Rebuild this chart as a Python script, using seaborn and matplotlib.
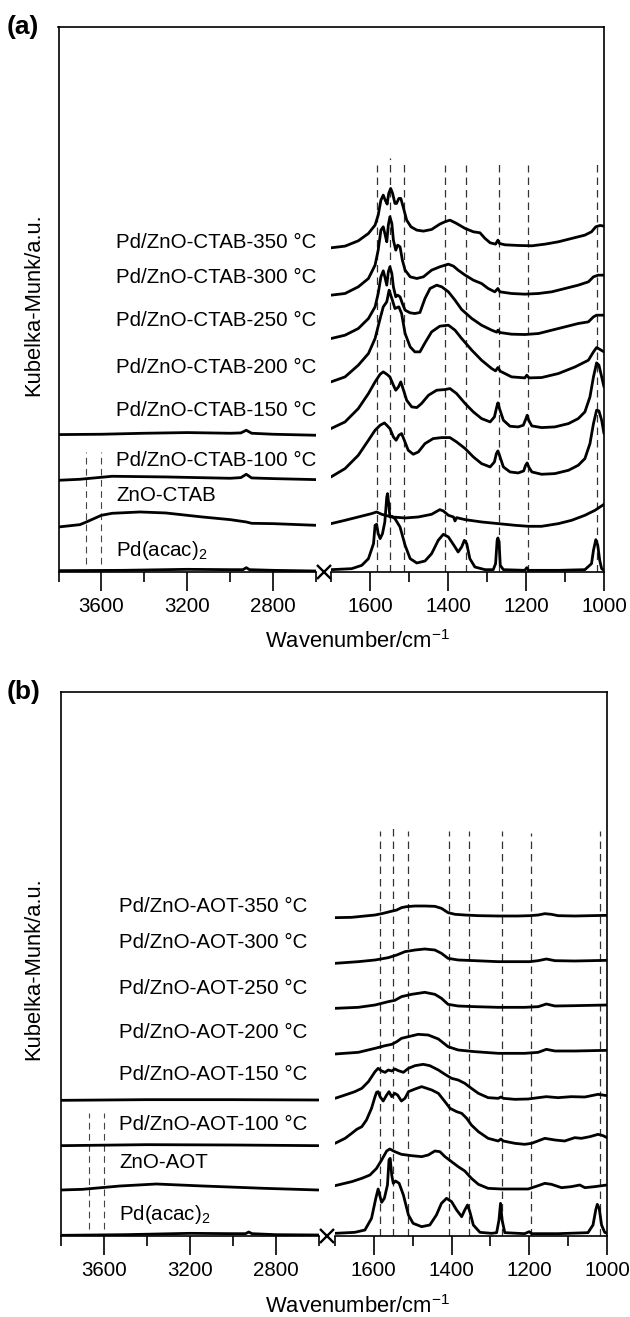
import matplotlib
matplotlib.use("Agg")
import matplotlib.pyplot as plt
import seaborn as sns
import numpy as np

# ---------------- DATA : panel (a) right segment (1700-1000 cm-1) ----------------
A_CTAB350_WN = [1700,1664,1630,1604,1587,1579,1572,1566,1561,1556,1552,1547,1542,1536,1532,1526,1521,1515,1506,1495,1480,1463,1442,1421,1408,1395,1378,1356,1335,1318,1305,1292,1278,1272,1268,1254,1220,1185,1151,1117,1083,1049,1032,1021,1010,1000]
A_CTAB350_KM = [9.72,9.77,9.93,10.15,10.40,10.70,11.15,11.30,11.15,11.03,11.35,11.50,11.35,11.05,11.05,11.20,11.20,10.95,10.55,10.35,10.25,10.22,10.27,10.43,10.50,10.55,10.45,10.30,10.20,10.17,10.00,9.87,9.83,9.95,9.85,9.81,9.79,9.78,9.83,9.90,10.00,10.10,10.20,10.35,10.39,10.37]

A_CTAB300_WN = [1700,1664,1630,1604,1587,1579,1572,1566,1562,1557,1553,1549,1544,1540,1534,1529,1523,1517,1510,1497,1480,1463,1442,1421,1399,1386,1374,1356,1335,1314,1297,1280,1272,1267,1237,1203,1168,1134,1100,1066,1040,1027,1015,1000]
A_CTAB300_KM = [8.30,8.35,8.55,8.80,9.20,9.65,10.25,10.35,10.15,9.90,10.40,10.65,10.45,9.95,9.65,9.80,9.75,9.35,9.05,8.85,8.80,8.85,9.05,9.15,9.23,9.17,9.05,8.90,8.75,8.65,8.50,8.40,8.50,8.40,8.35,8.33,8.35,8.40,8.50,8.60,8.70,8.85,8.90,8.90]

A_CTAB250_WN = [1700,1664,1630,1604,1587,1579,1572,1566,1562,1557,1553,1549,1544,1540,1534,1529,1523,1517,1510,1497,1485,1472,1459,1446,1429,1416,1399,1382,1365,1339,1314,1288,1275,1272,1267,1237,1203,1168,1134,1100,1066,1040,1027,1019,1000]
A_CTAB250_KM = [7.00,7.10,7.30,7.60,7.95,8.35,8.85,9.03,8.85,8.60,9.00,9.15,8.95,8.55,8.25,8.30,8.25,8.05,7.85,7.77,7.75,7.78,8.20,8.50,8.60,8.55,8.40,8.15,7.87,7.60,7.40,7.25,7.19,7.25,7.18,7.13,7.12,7.15,7.25,7.35,7.45,7.50,7.65,7.70,7.70]

A_CTAB200_WN = [1700,1664,1630,1604,1587,1574,1566,1557,1551,1544,1536,1526,1519,1510,1497,1485,1472,1459,1442,1421,1399,1382,1365,1339,1314,1288,1278,1272,1266,1237,1203,1198,1192,1160,1117,1074,1040,1027,1019,1010,1000]
A_CTAB200_KM = [5.70,5.85,6.20,6.55,7.00,7.60,7.95,8.10,8.45,8.20,7.90,7.95,7.75,7.15,6.75,6.60,6.60,6.87,7.20,7.37,7.40,7.25,7.00,6.65,6.35,6.10,6.03,6.13,6.02,5.85,5.82,5.90,5.82,5.83,5.95,6.15,6.35,6.60,6.73,6.67,6.60]

A_CTAB150_WN = [1700,1664,1630,1604,1587,1574,1566,1557,1549,1540,1534,1527,1521,1514,1506,1493,1480,1468,1450,1429,1408,1395,1378,1356,1335,1314,1292,1281,1275,1272,1268,1258,1241,1220,1207,1201,1197,1193,1185,1160,1126,1091,1066,1049,1036,1027,1019,1013,1006,1000]
A_CTAB150_KM = [4.30,4.50,4.90,5.35,5.70,5.93,6.00,5.93,5.85,5.60,5.45,5.55,5.70,5.45,5.15,4.95,4.93,5.05,5.30,5.45,5.47,5.50,5.35,5.05,4.80,4.60,4.50,4.65,4.95,5.07,4.90,4.55,4.37,4.35,4.40,4.57,4.70,4.55,4.38,4.33,4.35,4.45,4.60,4.80,5.25,5.85,6.27,6.20,5.85,5.55]

A_CTAB100_WN = [1700,1664,1630,1604,1587,1574,1563,1557,1549,1540,1533,1526,1519,1512,1502,1489,1476,1459,1438,1416,1395,1378,1356,1335,1314,1292,1281,1276,1272,1268,1258,1241,1220,1206,1201,1197,1193,1185,1160,1126,1091,1066,1049,1036,1027,1019,1013,1006,1000]
A_CTAB100_KM = [2.85,3.10,3.50,3.95,4.25,4.40,4.47,4.40,4.30,4.05,3.95,4.10,4.15,3.95,3.65,3.53,3.60,3.85,4.00,4.03,4.03,3.90,3.70,3.45,3.25,3.15,3.30,3.55,3.63,3.50,3.15,3.00,2.97,3.03,3.20,3.27,3.15,3.00,2.93,2.95,3.05,3.20,3.40,3.85,4.45,4.85,4.83,4.55,4.15]

A_ZNOCTAB_WN = [1700,1664,1630,1596,1583,1570,1544,1510,1476,1442,1421,1412,1399,1386,1382,1378,1356,1314,1271,1228,1194,1160,1117,1083,1049,1023,1000]
A_ZNOCTAB_KM = [1.45,1.55,1.65,1.75,1.80,1.73,1.65,1.62,1.65,1.73,1.87,1.83,1.70,1.65,1.53,1.63,1.57,1.50,1.45,1.40,1.37,1.37,1.45,1.55,1.70,1.85,2.03]

A_PDACAC_WN = [1700,1647,1621,1604,1591,1587,1583,1579,1574,1568,1562,1557,1555,1552,1549,1544,1536,1523,1510,1497,1480,1459,1442,1425,1412,1399,1382,1374,1365,1358,1352,1344,1331,1305,1284,1278,1274,1272,1269,1266,1258,1203,1198,1194,1117,1049,1032,1027,1021,1016,1011,1006,1000]
A_PDACAC_KM = [0.07,0.10,0.20,0.40,0.85,1.40,1.43,1.15,1.00,1.15,1.50,2.25,2.35,2.05,1.65,1.67,1.60,1.35,0.80,0.40,0.27,0.33,0.55,0.95,1.13,1.05,0.75,0.60,0.75,0.95,0.85,0.40,0.15,0.07,0.07,0.25,0.95,1.02,0.90,0.20,0.07,0.05,0.13,0.05,0.05,0.07,0.25,0.65,0.97,0.80,0.35,0.10,0.05]

# ---------------- DATA : panel (a) left segment (3800-2600 cm-1) ----------------
A_CTAB150_L_WN = [3800,3600,3400,3200,3000,2950,2925,2900,2800,2600]
A_CTAB150_L_KM = [4.12,4.13,4.16,4.18,4.16,4.17,4.25,4.16,4.13,4.10]
A_CTAB100_L_WN = [3800,3700,3550,3300,3000,2950,2925,2900,2800,2600]
A_CTAB100_L_KM = [2.75,2.78,2.87,2.85,2.81,2.83,2.93,2.82,2.80,2.77]
A_ZNOCTAB_L_WN = [3800,3700,3670,3600,3550,3420,3300,3130,3000,2925,2900,2800,2600]
A_ZNOCTAB_L_KM = [1.35,1.42,1.50,1.70,1.76,1.80,1.77,1.65,1.57,1.50,1.46,1.45,1.40]
A_PDACAC_L_WN = [3800,3500,3200,3000,2940,2925,2910,2800,2600]
A_PDACAC_L_KM = [0.04,0.05,0.08,0.07,0.07,0.13,0.07,0.05,0.03]

# ---------------- DATA : panel (b) right segment ----------------
B_AOT350_WN = [1700,1657,1623,1597,1576,1559,1541,1529,1516,1494,1469,1443,1426,1409,1391,1366,1331,1280,1229,1199,1177,1160,1143,1126,1083,1000]
B_AOT350_KM = [9.55,9.56,9.60,9.63,9.68,9.73,9.78,9.85,9.88,9.90,9.90,9.89,9.83,9.70,9.65,9.63,9.61,9.60,9.60,9.61,9.63,9.67,9.65,9.61,9.60,9.62]

B_AOT300_WN = [1700,1640,1597,1563,1541,1520,1494,1469,1443,1426,1409,1383,1340,1280,1229,1199,1177,1156,1134,1083,1000]
B_AOT300_KM = [8.18,8.23,8.28,8.35,8.43,8.53,8.58,8.61,8.58,8.48,8.33,8.28,8.26,8.23,8.23,8.23,8.26,8.31,8.26,8.25,8.27]

B_AOT250_WN = [1700,1640,1597,1563,1546,1529,1503,1469,1443,1426,1409,1383,1340,1280,1212,1177,1156,1134,1083,1000]
B_AOT250_KM = [6.83,6.86,6.93,7.03,7.07,7.18,7.25,7.31,7.25,7.13,6.95,6.90,6.88,6.86,6.86,6.88,6.96,6.90,6.91,6.93]

B_AOT200_WN = [1700,1640,1597,1571,1554,1541,1529,1511,1486,1460,1434,1409,1383,1340,1280,1212,1177,1156,1134,1083,1000]
B_AOT200_KM = [5.46,5.51,5.63,5.71,5.75,5.83,5.93,5.98,6.05,6.03,5.91,5.68,5.58,5.53,5.48,5.48,5.51,5.60,5.55,5.55,5.57]

B_AOT150_WN = [1700,1674,1649,1631,1614,1597,1589,1580,1571,1563,1554,1546,1537,1524,1511,1494,1473,1456,1434,1417,1400,1383,1366,1349,1331,1306,1280,1273,1267,1237,1203,1177,1156,1126,1092,1057,1023,1000]
B_AOT150_KM = [4.13,4.23,4.33,4.43,4.63,4.93,5.03,4.95,4.91,4.98,4.95,5.01,4.96,4.91,5.03,5.11,5.15,5.11,4.98,4.85,4.73,4.68,4.58,4.43,4.28,4.15,4.13,4.17,4.13,4.10,4.11,4.15,4.18,4.15,4.18,4.17,4.25,4.21]

B_AOT100_WN = [1700,1674,1657,1644,1631,1619,1606,1597,1593,1589,1584,1576,1567,1561,1554,1546,1539,1529,1520,1511,1494,1477,1469,1451,1434,1417,1404,1387,1374,1361,1349,1331,1306,1280,1273,1267,1237,1212,1194,1160,1134,1109,1083,1066,1044,1023,1010,1000]
B_AOT100_KM = [2.78,2.93,3.08,3.20,3.28,3.48,3.83,4.18,4.31,4.33,4.18,4.05,4.23,4.33,4.18,4.28,4.23,4.05,4.13,4.33,4.41,4.48,4.45,4.38,4.28,4.03,3.83,3.73,3.68,3.53,3.33,3.13,2.93,2.85,2.91,2.85,2.78,2.75,2.78,2.93,2.88,2.85,2.95,2.93,2.98,3.05,3.01,2.95]

B_ZNOAOT_WN = [1700,1657,1631,1610,1593,1580,1567,1559,1546,1529,1503,1477,1460,1443,1430,1417,1400,1383,1366,1349,1331,1306,1272,1229,1203,1177,1160,1143,1117,1092,1070,1057,1032,1000]
B_ZNOAOT_KM = [1.51,1.63,1.73,1.83,2.03,2.28,2.55,2.61,2.53,2.45,2.41,2.38,2.43,2.55,2.53,2.38,2.23,2.08,1.95,1.73,1.55,1.43,1.41,1.41,1.41,1.51,1.58,1.55,1.45,1.48,1.53,1.45,1.48,1.53]

B_PDACAC_WN = [1700,1649,1623,1606,1595,1589,1584,1580,1573,1565,1561,1558,1554,1550,1544,1535,1524,1511,1499,1477,1456,1439,1426,1413,1400,1387,1374,1366,1359,1353,1344,1327,1297,1284,1278,1274,1270,1263,1212,1200,1194,1126,1049,1036,1029,1025,1020,1014,1006,1000]
B_PDACAC_KM = [0.08,0.11,0.18,0.53,1.13,1.41,1.18,1.01,1.13,1.53,2.28,2.33,1.83,1.58,1.65,1.58,1.23,0.63,0.38,0.28,0.33,0.63,0.98,1.13,1.03,0.78,0.58,0.78,0.93,0.73,0.33,0.11,0.08,0.10,0.48,0.98,0.48,0.10,0.07,0.13,0.07,0.07,0.10,0.33,0.78,0.95,0.83,0.33,0.11,0.08]

# ---------------- DATA : panel (b) left segment ----------------
B_AOT150_L_WN = [3800,3400,3000,2600]
B_AOT150_L_KM = [4.07,4.09,4.09,4.08]
B_AOT100_L_WN = [3800,3400,3000,2600]
B_AOT100_L_KM = [2.71,2.74,2.73,2.71]
B_ZNOAOT_L_WN = [3800,3700,3525,3356,3138,2853,2600]
B_ZNOAOT_L_KM = [1.38,1.40,1.50,1.56,1.50,1.43,1.38]
B_PDACAC_L_WN = [3800,3500,3200,3000,2940,2925,2910,2800,2600]
B_PDACAC_L_KM = [0.02,0.04,0.08,0.07,0.07,0.12,0.07,0.04,0.03]

# reference band positions (dashed lines)
DASH_WN = [1583, 1550, 1513, 1407, 1355, 1269, 1196, 1019]
DASH_WN_HIGH = [3670, 3600]

LABELS_A = ["Pd/ZnO-CTAB-350 \u00b0C", "Pd/ZnO-CTAB-300 \u00b0C", "Pd/ZnO-CTAB-250 \u00b0C",
            "Pd/ZnO-CTAB-200 \u00b0C", "Pd/ZnO-CTAB-150 \u00b0C", "Pd/ZnO-CTAB-100 \u00b0C",
            "ZnO-CTAB", r"Pd(acac)$_{\mathregular{2}}$"]
LABELS_B = ["Pd/ZnO-AOT-350 \u00b0C", "Pd/ZnO-AOT-300 \u00b0C", "Pd/ZnO-AOT-250 \u00b0C",
            "Pd/ZnO-AOT-200 \u00b0C", "Pd/ZnO-AOT-150 \u00b0C", "Pd/ZnO-AOT-100 \u00b0C",
            "ZnO-AOT", r"Pd(acac)$_{\mathregular{2}}$"]

# ---------------- style ----------------
sns.set_theme(style="ticks")
plt.rcParams["font.family"] = ["Liberation Sans", "DejaVu Sans"]
plt.rcParams["mathtext.fontset"] = "custom"
plt.rcParams["mathtext.rm"] = "Liberation Sans"
plt.rcParams["text.color"] = "black"
plt.rcParams["axes.labelcolor"] = "black"
plt.rcParams["xtick.color"] = "black"
plt.rcParams["xtick.labelcolor"] = "black"
FS = 14.8
FS_TICK = 14.8
FS_AXLAB = 15.8
LW = 2.0

W, H = 630, 1317
fig = plt.figure(figsize=(W / 100, H / 100), dpi=100)
fig.patch.set_facecolor("white")


def fx(px):
    return px / W


def fy(py):
    return 1 - py / H


def make_panel(geom, right_series, left_series, labels, label_y, dash_tops, dash_low, letter, xlabel_y):
    lx0, lx1, rx0, rx1, top, bot, ymax = geom
    hgt = (bot - top) / H
    bg = fig.add_axes([fx(lx0), fy(bot), fx(rx1 - lx0), hgt])
    bg.set_facecolor("none")
    bg.set_xticks([]); bg.set_yticks([])
    for s in ["left", "right", "bottom"]:
        bg.spines[s].set_visible(False)
    bg.spines["top"].set_linewidth(1.2)
    bg.spines["top"].set_color("black")
    # break mark at the gap between both segments
    gap_mid = ((lx1 + rx0) / 2 - lx0) / (rx1 - lx0)
    bg.plot([gap_mid], [0], marker="x", ms=10, mew=1.7, color="black",
            transform=bg.transAxes, clip_on=False)

    axL = fig.add_axes([fx(lx0), fy(bot), fx(lx1 - lx0), hgt])
    axR = fig.add_axes([fx(rx0), fy(bot), fx(rx1 - rx0), hgt])
    for ax in (axL, axR):
        ax.set_facecolor("none")
        ax.set_ylim(0, ymax)
        ax.set_yticks([])
        ax.spines["top"].set_visible(False)
        for s in ["left", "right", "bottom"]:
            ax.spines[s].set_linewidth(1.2)
            ax.spines[s].set_color("black")
        ax.tick_params(axis="x", which="major", direction="out", length=13.5, width=1.2,
                       labelsize=FS_TICK, pad=4.5, color="black", labelcolor="black")
        ax.tick_params(axis="x", which="minor", direction="out", length=7.5, width=1.2, color="black")
    axL.spines["right"].set_visible(False)
    axR.spines["left"].set_visible(False)
    axL.set_xlim(3800, 2600)
    axL.set_xticks([3600, 3200, 2800])
    axL.set_xticks([3800, 3400, 3000, 2600], minor=True)
    axR.set_xlim(1700, 1000)
    axR.set_xticks([1600, 1400, 1200, 1000])
    axR.set_xticks([1700, 1500, 1300, 1100], minor=True)

    # dashed reference lines
    axR.vlines(DASH_WN, 0, dash_tops, colors="#333333", linestyles=(0, (6, 4)), lw=0.9, zorder=1)
    axL.vlines(DASH_WN_HIGH, dash_low[0], dash_low[1], colors="#444444",
               linestyles=(0, (6, 4)), lw=0.8, zorder=1)

    for wn, km in right_series:
        sns.lineplot(x=np.array(wn), y=np.array(km), ax=axR, color="black", lw=LW,
                     sort=False, estimator=None, zorder=3)
    for wn, km in left_series:
        sns.lineplot(x=np.array(wn), y=np.array(km), ax=axL, color="black", lw=LW,
                     sort=False, estimator=None, zorder=3)
    for ax in (axL, axR):
        ax.set_xlabel(""); ax.set_ylabel("")

    for lab, yy in zip(labels, label_y):
        axL.text(3530, yy, lab, ha="left", va="center", fontsize=FS, color="black")

    fig.text(fx(7), fy(top), letter, fontsize=19, fontweight="bold", ha="left", va="center",
             color="black")
    fig.text(fx(34), fy((top + bot) / 2 + 5), "Kubelka-Munk/a.u.", rotation=90,
             fontsize=FS_AXLAB, ha="center", va="center", color="black")
    fig.text(fx(358), fy(xlabel_y), r"Wavenumber/cm$^{\mathregular{-1}}$",
             fontsize=FS_AXLAB, ha="center", va="center", color="black")


make_panel((58.5, 316, 331, 604, 27, 572, 16.34),
           [(A_CTAB350_WN, A_CTAB350_KM), (A_CTAB300_WN, A_CTAB300_KM),
            (A_CTAB250_WN, A_CTAB250_KM), (A_CTAB200_WN, A_CTAB200_KM),
            (A_CTAB150_WN, A_CTAB150_KM), (A_CTAB100_WN, A_CTAB100_KM),
            (A_ZNOCTAB_WN, A_ZNOCTAB_KM), (A_PDACAC_WN, A_PDACAC_KM)],
           [(A_CTAB150_L_WN, A_CTAB150_L_KM), (A_CTAB100_L_WN, A_CTAB100_L_KM),
            (A_ZNOCTAB_L_WN, A_ZNOCTAB_L_KM), (A_PDACAC_L_WN, A_PDACAC_L_KM)],
           LABELS_A, [9.89, 8.84, 7.53, 6.14, 4.85, 3.35, 2.30, 0.65],
           [12.2, 12.4, 12.25, 12.2, 12.2, 12.3, 12.2, 12.3], (0.25, 3.6), "(a)", 642)

make_panel((61, 318.5, 335, 607, 692, 1236, 16.32),
           [(B_AOT350_WN, B_AOT350_KM), (B_AOT300_WN, B_AOT300_KM),
            (B_AOT250_WN, B_AOT250_KM), (B_AOT200_WN, B_AOT200_KM),
            (B_AOT150_WN, B_AOT150_KM), (B_AOT100_WN, B_AOT100_KM),
            (B_ZNOAOT_WN, B_ZNOAOT_KM), (B_PDACAC_WN, B_PDACAC_KM)],
           [(B_AOT150_L_WN, B_AOT150_L_KM), (B_AOT100_L_WN, B_AOT100_L_KM),
            (B_ZNOAOT_L_WN, B_ZNOAOT_L_KM), (B_PDACAC_L_WN, B_PDACAC_L_KM)],
           LABELS_B, [9.87, 8.82, 7.44, 6.09, 4.83, 3.33, 2.22, 0.63],
           [12.15, 12.35, 12.15, 12.15, 12.15, 12.15, 12.1, 12.15], (0.21, 3.69), "(b)", 1307)

fig.savefig("out.png", dpi=100, facecolor="white")
